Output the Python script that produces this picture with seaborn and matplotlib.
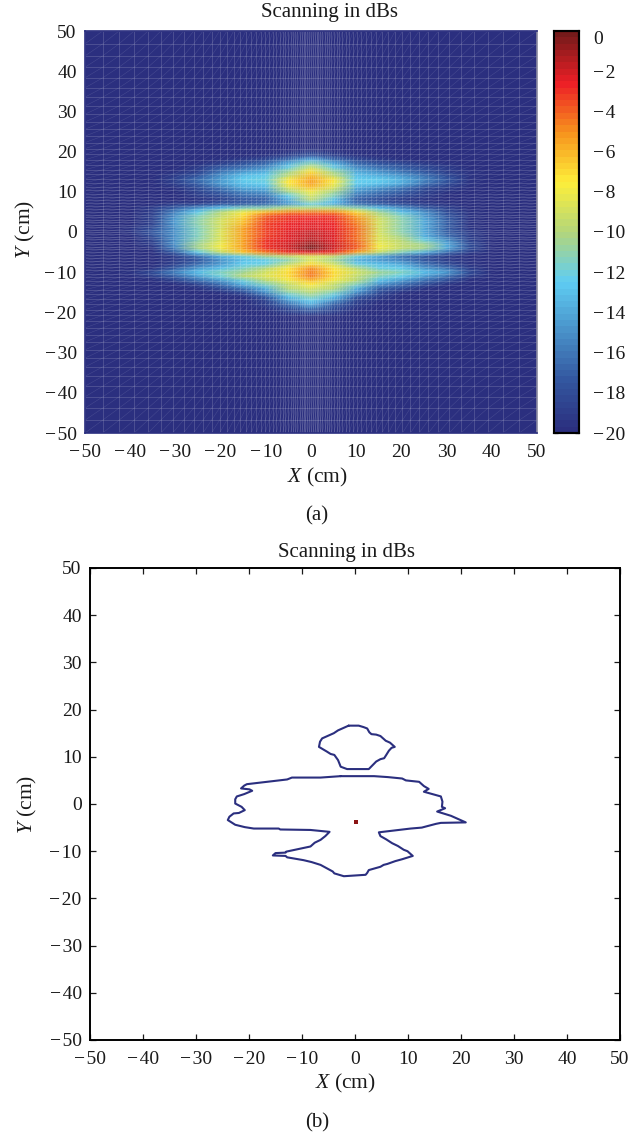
import numpy as np
import pandas as pd
import seaborn as sns
import matplotlib.pyplot as plt
from matplotlib.collections import LineCollection
from matplotlib.colors import LinearSegmentedColormap

# x columns -40..40 step 5, rows y = 20 down to -20 step 1 (dB)
heat_x = [-40, -35, -30, -25, -20, -15, -10, -5, 0, 5, 10, 15, 20, 25, 30, 35, 40]
heat_y = list(range(20, -21, -1))
heat_rows = [
    [-20, -20, -20, -20, -20, -20, -20, -19.5, -19, -19.5, -20, -20, -20, -20, -20, -20, -20],
    [-20, -20, -20, -20, -20, -20, -19.5, -18.5, -17.5, -18.5, -19.5, -20, -20, -20, -20, -20, -20],
    [-20, -20, -20, -20, -19.5, -19, -18, -16, -13.5, -16, -18, -19, -19.5, -20, -20, -20, -20],
    [-20, -20, -20, -19.5, -18.5, -17.5, -16.5, -13.5, -11, -13.5, -16.5, -17.5, -18, -19, -19.5, -20, -20],
    [-20, -20, -20, -19, -17, -16, -15, -12, -9, -12, -15, -16, -17, -18, -19, -20, -20],
    [-20, -20, -19.5, -18.5, -16, -14.5, -13.5, -10.5, -7, -10.5, -14, -15, -16, -17.5, -19, -19.5, -20],
    [-20, -20, -19, -17.5, -15, -13, -12.5, -9.5, -6, -9.5, -13, -13.5, -14.5, -16, -18, -19.5, -20],
    [-20, -20, -18.5, -16.5, -14.5, -12.5, -12, -7.5, -5.5, -7.5, -12.5, -12.5, -13.5, -15.5, -17.5, -19.5, -20],
    [-20, -20, -19, -17, -14.5, -13, -12.5, -7.5, -5.5, -8, -12.5, -13, -14, -16, -18, -19.5, -20],
    [-20, -20, -19.5, -18, -16, -14, -13.5, -9, -6.5, -9, -14, -15, -16, -18, -19, -20, -20],
    [-20, -20, -20, -18.5, -17, -15.5, -15, -10.5, -8, -10.5, -15, -16, -17, -18.5, -19.5, -20, -20],
    [-20, -20, -20, -19, -18, -16.5, -16, -12.5, -9, -11.5, -16, -17, -18, -19, -20, -20, -20],
    [-20, -20, -20, -19.5, -18.5, -17.5, -17, -14, -10, -13, -17, -18, -19, -19.5, -20, -20, -20],
    [-20, -20, -19, -18.5, -17.5, -17, -16.5, -14.5, -12, -13.5, -16, -17, -18, -19, -19.5, -20, -20],
    [-20, -19, -17, -15, -13, -11.5, -11, -10, -10, -10, -11, -13, -15, -17, -18.5, -20, -20],
    [-20, -19, -15.5, -12.5, -10, -8, -6, -5, -4.5, -5, -7, -10.5, -13, -15, -18, -19.5, -20],
    [-20, -18.5, -15, -11.5, -9.5, -7, -3.8, -3, -3, -3, -5.5, -9.5, -11.5, -14.5, -17.5, -19.5, -20],
    [-20, -18.5, -14.5, -11, -9, -6.5, -3.5, -3, -2.8, -3, -5, -9, -11, -14, -17, -19.5, -20],
    [-20, -18.5, -14.5, -11, -9, -6, -3.3, -2.8, -2.5, -2.8, -4.5, -9, -11, -14, -17, -19.5, -20],
    [-19.5, -18, -15, -11.5, -9, -5.5, -3.2, -2.8, -2.2, -2.8, -4.2, -9, -11, -14, -17, -19.5, -20],
    [-19.5, -17.5, -15, -11.5, -8.5, -5.5, -3.2, -2.5, -1.8, -2.5, -4.2, -9, -11, -14, -17, -19, -20],
    [-20, -18, -15, -11.5, -8.5, -5.5, -3.2, -2.5, -1.8, -2.5, -4.2, -8.5, -10.5, -13.5, -16.5, -19, -20],
    [-20, -18.5, -15, -11, -8.5, -5.5, -3, -2.3, -1.5, -2.3, -4.2, -8.5, -10, -12, -15, -18.5, -20],
    [-20, -19, -15, -10.5, -8, -5.5, -3, -2, -0.8, -2, -4, -8, -9.5, -10.5, -14, -18, -20],
    [-20, -19.5, -15.5, -10.5, -8, -5.5, -3, -2, -0.2, -2, -4, -8, -9.5, -10.5, -14, -18, -20],
    [-20, -20, -17, -12.5, -9.5, -6.5, -4.5, -3, -2.5, -3, -5.5, -9.5, -11.5, -13.5, -16.5, -19, -20],
    [-20, -20, -19, -16.5, -13.5, -12, -10.5, -9.5, -8.5, -9.5, -12, -14, -16, -17.5, -19, -20, -20],
    [-20, -20, -19, -17.5, -15, -13, -12.5, -11, -8.5, -10.5, -13.5, -14.5, -15.5, -17.5, -19, -19.5, -20],
    [-20, -20, -18.5, -16.5, -14.5, -12.5, -12, -9.5, -7, -9, -12, -13, -14, -16, -18, -19.5, -20],
    [-20, -19.5, -17, -14.5, -13, -11.5, -10, -7.5, -5, -7.5, -10, -12, -12.5, -14.5, -16, -19, -20],
    [-19.5, -18, -15.5, -13, -11.5, -10.5, -9, -7, -4.5, -7, -9, -10.5, -11.5, -13, -14.5, -18, -20],
    [-20, -19, -17, -14.5, -12, -10, -8.5, -7, -4.5, -7, -9.5, -11.5, -12.5, -14.5, -16.5, -19, -20],
    [-20, -20, -18.5, -16.5, -14.5, -12, -10, -8, -6, -8, -10, -13, -14.5, -16.5, -18, -20, -20],
    [-20, -20, -20, -18.5, -16.5, -13.5, -11.5, -9.5, -7.5, -9.5, -11.5, -15, -16.5, -18, -19.5, -20, -20],
    [-20, -20, -20, -19.5, -18, -16, -13.5, -10, -9, -10, -13.5, -17, -18, -19.5, -20, -20, -20],
    [-20, -20, -20, -20, -19.5, -18, -15, -11, -10, -11.5, -15, -18, -19.5, -20, -20, -20, -20],
    [-20, -20, -20, -20, -20, -19.5, -17, -13, -11, -13, -17, -19, -20, -20, -20, -20, -20],
    [-20, -20, -20, -20, -20, -20, -18.5, -14.5, -12.5, -15, -18.5, -19.5, -20, -20, -20, -20, -20],
    [-20, -20, -20, -20, -20, -20, -19, -16.5, -14, -17, -19, -20, -20, -20, -20, -20, -20],
    [-20, -20, -20, -20, -20, -20, -19.5, -18, -16.5, -18, -19.5, -20, -20, -20, -20, -20, -20],
    [-20, -20, -20, -20, -20, -20, -20, -19, -18, -19, -20, -20, -20, -20, -20, -20, -20],
]
floor_db = -20

# -10 dB contour, upper lobe and main body (cm)
lobe_x = [-1.2, 0.7, 1.6, 2.3, 2.7, 3.1, 4.0, 4.8, 5.3, 5.8, 6.6, 7.5, 6.9, 6.4, 5.9, 5.5, 4.8, 4.0, 3.3, 2.6, -1.5,
          -2.7, -3.2, -3.9, -4.6, -5.3, -6.8, -6.6, -6.2, -5.2, -4.0, -3.2, -2.4, -1.2]
lobe_y = [16.6, 16.6, 16.3, 16.0, 15.2, 14.8, 14.7, 14.4, 13.9, 13.4, 13.0, 12.1, 11.9, 11.3, 10.4, 9.7, 9.5, 9.0, 8.2,
          7.4, 7.4, 7.9, 9.3, 10.4, 10.6, 11.1, 12.1, 13.2, 13.9, 14.4, 15.0, 15.6, 16.0, 16.6]
body_x = [-2.7, 3.6, 6.2, 8.9, 9.6, 12.1, 13.0, 13.9, 13.0, 14.6, 16.2, 16.5, 16.4, 17.0, 15.5, 18.1, 20.9, 16.2, 15.3,
          13.6, 12.6, 10.5, 7.5, 4.5, 4.8, 5.9, 7.0, 8.1, 9.2, 9.9, 10.9, 8.9, 7.6, 6.1, 5.4, 4.8, 2.6, 2.3, 2.0, -2.1,
          -3.9, -4.2, -6.5, -8.2, -9.7, -12.8, -13.1, -15.5, -15.0, -13.1, -13.0, -8.4, -7.6, -6.5, -5.6, -4.8, -8.4,
          -14.1, -14.4, -19.1, -20.8, -22.6, -24.0, -23.7, -22.9, -21.9, -20.8, -21.4, -22.6, -22.6, -22.3, -20.9,
          -19.4, -19.9, -21.5, -20.9, -20.4, -16.6, -12.8, -11.9, -6.5, -2.7]
body_y = [5.9, 5.9, 5.7, 5.4, 5.0, 4.7, 3.8, 3.2, 2.6, 2.1, 1.6, 0.5, -0.6, -0.9, -1.6, -2.5, -3.9, -4.0, -4.2, -4.7,
          -5.0, -5.2, -5.6, -6.0, -6.8, -7.5, -8.3, -8.9, -9.7, -10.0, -11.0, -11.7, -12.1, -12.7, -12.9, -13.3,
          -14.0, -14.6, -15.0, -15.3, -14.7, -14.3, -12.9, -12.3, -11.9, -11.3, -11.0, -10.9, -10.4, -10.3, -10.1,
          -9.0, -8.2, -7.6, -6.8, -5.9, -5.5, -5.4, -5.2, -5.2, -4.9, -4.4, -3.4, -2.7, -2.0, -1.9, -1.3, -0.6, 0.1,
          1.0, 1.6, 2.1, 2.8, 3.1, 3.3, 3.9, 4.2, 4.7, 5.2, 5.6, 5.6, 5.9]
peak_x = [0.16]
peak_y = [-3.74]

ticks = [-50, -40, -30, -20, -10, 0, 10, 20, 30, 40, 50]
cbar_ticks = [0, -2, -4, -6, -8, -10, -12, -14, -16, -18, -20]

sns.set_theme(style='white')
plt.rcParams['font.family'] = ['Liberation Serif', 'DejaVu Serif']
plt.rcParams['mathtext.fontset'] = 'custom'
plt.rcParams['mathtext.it'] = 'Liberation Serif:italic'
plt.rcParams['mathtext.rm'] = 'Liberation Serif'

W, H = 644, 1134
fs = 14
label_fs = 15.5
title_fs = 15
ink = '#1a1a1a'
navy = '#2b2f7f'
cmap = LinearSegmentedColormap.from_list('cmyk_jet', [
    (0.0, navy), (0.125, '#33569f'), (0.375, '#5fcdf3'), (0.5, '#b3d67a'),
    (0.625, '#fdee3a'), (0.75, '#f7941d'), (0.875, '#ed1f26'), (1.0, '#751a1a')], N=64)


def px_axes(x0, y0, x1, y1):
    return fig.add_axes([x0 / W, 1 - y1 / H, (x1 - x0) / W, (y1 - y0) / H])


def lab(v):
    # wide minus like the journal typesetting
    return f'\u2212\u200a{abs(v)}' if v < 0 else str(v)


fig = plt.figure(figsize=(W / 100, H / 100), dpi=100)
ax = px_axes(85, 31, 537, 433)
cax = px_axes(554, 31, 579, 433)

# pad the read-off table out to the full +-50 cm scan area
grid = np.pad(np.array(heat_rows)[::-1], ((30, 30), (2, 2)), constant_values=floor_db)
grid_x = np.arange(-50, 51, 5)
grid_y = np.arange(-50, 51, 1)
df = pd.DataFrame(grid, index=grid_y, columns=grid_x)

sns.heatmap(df, ax=ax, cbar_ax=cax, cmap=cmap, vmin=-20, vmax=0, shading='gouraud',
            xticklabels=False, yticklabels=False, cbar_kws={'ticks': cbar_ticks})
ax.set_xlim(0, 20)
ax.set_ylim(0, 100)


def to_col(v):
    return (np.asarray(v) + 50) / 5


def to_row(v):
    return np.asarray(v) + 50


# scan mesh drawn over the surface, dense in the middle and coarse at the edges
u = np.linspace(-1, 1, 75)
mesh_x = 50 * np.sinh(3.0 * u) / np.sinh(3.0)
mesh_y = 50 * np.sinh(2.4 * u) / np.sinh(2.4)
cx, cy = to_col(mesh_x), to_row(mesh_y)
lines = [[(c, cy[0]), (c, cy[-1])] for c in cx] + [[(cx[0], r), (cx[-1], r)] for r in cy]
diags = []
for i in range(len(cx) - 1):
    for j in range(len(cy) - 1):
        diags.append([(cx[i], cy[j]), (cx[i + 1], cy[j + 1])])
ax.add_collection(LineCollection(diags, colors='white', linewidths=0.35, alpha=0.14))
ax.add_collection(LineCollection(lines, colors='white', linewidths=0.55, alpha=0.2))

ax.set_xticks(to_col(ticks))
ax.set_xticklabels([lab(t) for t in ticks], rotation=0)
ax.set_yticks(to_row(ticks))
ax.set_yticklabels([lab(t) for t in ticks], rotation=0)
ax.tick_params(axis='x', length=0, labelsize=fs, pad=8, colors=ink)
ax.tick_params(axis='y', length=0, labelsize=fs, pad=6, colors=ink)
for s in ax.spines.values():
    s.set_visible(True)
    s.set_color(navy)
    s.set_linewidth(1.2)
ax.spines['right'].set_color('#8a8aa0')
fig.text(329 / W, 1 - 13 / H, 'Scanning in dBs', ha='center', va='center', fontsize=title_fs, color=ink)
ax.set_xlabel(r'$\mathit{X}$ (cm)', fontsize=label_fs, color=ink, va='center')
ax.xaxis.set_label_coords((317 - 85) / 452, -(477 - 433) / 402)
ax.set_ylabel(r'$\mathit{Y}$ (cm)', fontsize=label_fs, color=ink, va='center')
ax.yaxis.set_label_coords((25 - 85) / 452, (433 - 229) / 402)

cax.set_yticks(cbar_ticks)
cax.set_yticklabels([lab(t) for t in cbar_ticks])
cax.tick_params(direction='in', left=True, right=True, length=3, width=0.9, labelsize=fs, pad=10, colors=ink)
cax.yaxis.set_ticks_position('both')
cax.tick_params(labelleft=False, labelright=True)
cax.get_yticklabels()[0].set_va('top')
for s in cax.spines.values():
    s.set_visible(True)
    s.set_color('black')
    s.set_linewidth(1.5)
cax.spines['left'].set_color('#9a9a9a')

# lower panel: contour of the same scan
ax2 = px_axes(90, 568, 620, 1040)
sns.lineplot(x=lobe_x, y=lobe_y, ax=ax2, sort=False, estimator=None, color=navy, linewidth=1.5)
sns.lineplot(x=body_x, y=body_y, ax=ax2, sort=False, estimator=None, color=navy, linewidth=1.5)
sns.scatterplot(x=peak_x, y=peak_y, ax=ax2, color='#8b1414', s=5, marker='s', linewidth=0)
ax2.set_xlim(-50, 50)
ax2.set_ylim(-50, 50)
ax2.set_xticks(ticks)
ax2.set_xticklabels([lab(t) for t in ticks])
ax2.set_yticks(ticks)
ax2.set_yticklabels([lab(t) for t in ticks])
ax2.tick_params(direction='in', top=True, right=True, bottom=True, left=True, length=4, width=0.9,
                labelsize=fs, colors=ink)
ax2.tick_params(axis='x', pad=8)
ax2.tick_params(axis='y', pad=6)
for s in ax2.spines.values():
    s.set_visible(True)
    s.set_color('black')
    s.set_linewidth(1.4)
fig.text(346.5 / W, 1 - 553 / H, 'Scanning in dBs', ha='center', va='center', fontsize=title_fs, color=ink)
ax2.set_xlabel(r'$\mathit{X}$ (cm)', fontsize=label_fs, color=ink, va='center')
ax2.xaxis.set_label_coords((345.5 - 90) / 530, -(1083 - 1040) / 472)
ax2.set_ylabel(r'$\mathit{Y}$ (cm)', fontsize=label_fs, color=ink, va='center')
ax2.yaxis.set_label_coords((27 - 90) / 530, 0.5)

fig.text(317 / W, 1 - 516 / H, '(a)', ha='center', va='center', fontsize=15, color=ink)
fig.text(317.5 / W, 1 - 1123 / H, '(b)', ha='center', va='center', fontsize=15, color=ink)

fig.savefig('out.png', dpi=100)
